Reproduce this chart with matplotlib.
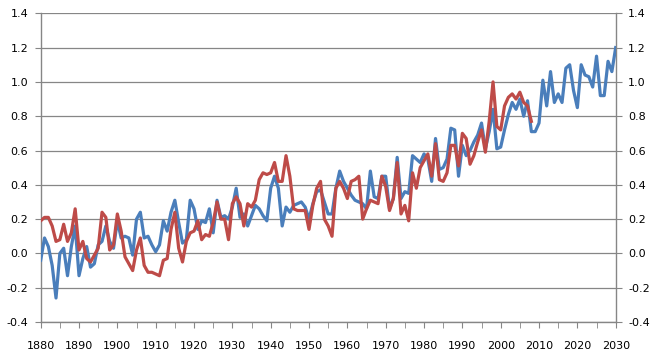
import numpy as np
import matplotlib
matplotlib.use("Agg")
import matplotlib.pyplot as plt
from matplotlib.ticker import MultipleLocator

# blue series, annual values 1880-2030
blue_years = list(range(1880, 2031))
blue_vals = [
    -0.04, 0.09, 0.04, -0.07, -0.26, 0.00, 0.03, -0.13, 0.04, 0.16,   # 1880s
    -0.13, -0.03, 0.04, -0.08, -0.06, 0.05, 0.07, 0.16, 0.07, 0.03,   # 1890s
    0.19, 0.09, 0.10, 0.09, -0.01, 0.20, 0.24, 0.09, 0.10, 0.05,      # 1900s
    0.01, 0.05, 0.19, 0.13, 0.24, 0.31, 0.18, 0.06, 0.08, 0.31,       # 1910s
    0.26, 0.14, 0.19, 0.18, 0.26, 0.12, 0.31, 0.21, 0.22, 0.20,       # 1920s
    0.27, 0.38, 0.21, 0.23, 0.16, 0.22, 0.28, 0.26, 0.22, 0.19,       # 1930s
    0.38, 0.45, 0.38, 0.16, 0.27, 0.24, 0.28, 0.29, 0.30, 0.27,       # 1940s
    0.20, 0.29, 0.36, 0.37, 0.30, 0.23, 0.23, 0.38, 0.48, 0.42,       # 1950s
    0.38, 0.34, 0.31, 0.30, 0.29, 0.26, 0.48, 0.33, 0.32, 0.45,       # 1960s
    0.45, 0.26, 0.32, 0.56, 0.32, 0.36, 0.35, 0.57, 0.55, 0.53,       # 1970s
    0.58, 0.55, 0.42, 0.67, 0.49, 0.50, 0.55, 0.73, 0.72, 0.45,       # 1980s
    0.63, 0.57, 0.60, 0.65, 0.69, 0.76, 0.61, 0.71, 0.84, 0.61,       # 1990s
    0.62, 0.72, 0.81, 0.88, 0.84, 0.90, 0.80, 0.89, 0.71, 0.71,       # 2000s
    0.76, 1.01, 0.86, 1.06, 0.88, 0.93, 0.88, 1.08, 1.10, 0.95,       # 2010s
    0.85, 1.10, 1.04, 1.03, 0.97, 1.15, 0.92, 0.92, 1.12, 1.06,       # 2020s
    1.20,                                                             # 2030
]

# red series, annual values 1880-2008
red_years = list(range(1880, 2009))
red_vals = [
    0.19, 0.21, 0.21, 0.16, 0.07, 0.08, 0.17, 0.07, 0.12, 0.26,       # 1880s
    0.02, 0.07, -0.03, -0.05, -0.01, 0.03, 0.24, 0.21, 0.02, 0.05,    # 1890s
    0.23, 0.13, -0.02, -0.06, -0.10, 0.02, 0.09, -0.07, -0.11, -0.11, # 1900s
    -0.12, -0.13, -0.04, -0.03, 0.14, 0.24, 0.03, -0.05, 0.07, 0.12,  # 1910s
    0.13, 0.19, 0.08, 0.11, 0.10, 0.18, 0.30, 0.20, 0.20, 0.08,       # 1920s
    0.29, 0.33, 0.29, 0.16, 0.29, 0.27, 0.31, 0.43, 0.47, 0.46,       # 1930s
    0.47, 0.53, 0.42, 0.42, 0.57, 0.45, 0.26, 0.25, 0.25, 0.25,       # 1940s
    0.14, 0.28, 0.38, 0.42, 0.20, 0.16, 0.10, 0.38, 0.42, 0.38,       # 1950s
    0.32, 0.42, 0.43, 0.45, 0.20, 0.26, 0.31, 0.30, 0.29, 0.45,       # 1960s
    0.39, 0.25, 0.32, 0.53, 0.23, 0.28, 0.19, 0.47, 0.38, 0.50,       # 1970s
    0.54, 0.58, 0.45, 0.64, 0.43, 0.42, 0.47, 0.63, 0.63, 0.51,       # 1980s
    0.70, 0.67, 0.52, 0.57, 0.65, 0.72, 0.59, 0.77, 1.00, 0.74,       # 1990s
    0.72, 0.86, 0.91, 0.93, 0.90, 0.94, 0.88, 0.86, 0.77,             # 2000s
]

x_labels = list(range(1880, 2031, 10))

fig = plt.figure(figsize=(6.55, 3.59), dpi=100)
ax = fig.add_axes([0.0621, 0.103, 0.8779, 0.860])

grid_col = '#868686'
ax.plot(blue_years, blue_vals, color='#4A7EBB', lw=2.3, solid_joinstyle='round', zorder=3)
ax.plot(red_years, red_vals, color='#BE4B48', lw=2.3, solid_joinstyle='round', zorder=4)

ax.set_xlim(1880, 2030)
ax.set_ylim(-0.4, 1.4)
ax.set_yticks(np.arange(-0.4, 1.41, 0.2))
ax.set_yticklabels(['%.1f' % v for v in np.arange(-0.4, 1.41, 0.2)])
ax.set_xticks(x_labels)
ax.set_xticklabels([str(v) for v in x_labels])
ax.xaxis.set_minor_locator(MultipleLocator(5))

ax.grid(axis='y', color=grid_col, lw=0.9)
ax.set_axisbelow(True)
for side in ['left', 'right', 'bottom']:
    ax.spines[side].set_color(grid_col)
    ax.spines[side].set_linewidth(1.0)
ax.spines['top'].set_visible(False)

ax.tick_params(axis='y', which='both', direction='out', length=4, color=grid_col,
               labelsize=8, left=True, right=True, labelleft=True, labelright=True, pad=5)
ax.tick_params(axis='x', which='both', direction='out', length=4, color=grid_col,
               labelsize=8, pad=10)
for lab in ax.get_xticklabels() + ax.get_yticklabels():
    lab.set_fontfamily('DejaVu Sans')

fig.savefig('out.png', dpi=100)
